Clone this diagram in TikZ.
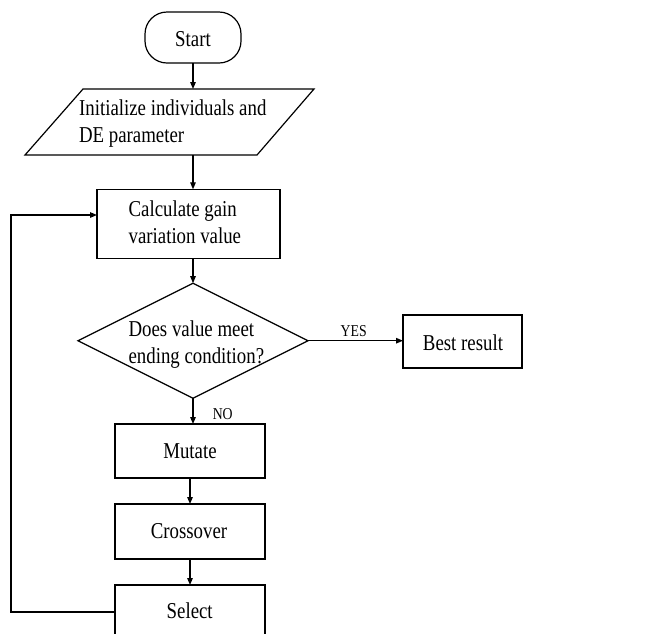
\documentclass[tikz,border=0pt]{standalone}
\usepackage{fontspec}
\setmainfont{Liberation Serif}[FakeStretch=0.83]
\usetikzlibrary{arrows.meta,shapes.geometric}
\begin{document}
\begin{tikzpicture}[x=1pt,y=-1pt,
  line width=1.2pt,
  box/.style={draw, line width=1.2pt, inner sep=0pt, outer sep=0pt},
  conn/.style={-{Triangle[length=7pt,width=5.5pt]}, line width=1.2pt},
  txt/.style={font=\fontsize{22.7}{27}\selectfont, inner sep=0pt, anchor=base},
  lbl/.style={font=\fontsize{16.6}{20}\selectfont, inner sep=0pt, anchor=base}]
\useasboundingbox (0,0) rectangle (652,633);
\clip (0,0) rectangle (652,633);
\fill[white] (0,0) rectangle (652,633);
% shapes
\node[box, minimum width=96pt, minimum height=51pt, rounded corners=22pt] (start) at (193,37.5) {};
\draw (83,89) -- (314,89) -- (257,155) -- (25,155) -- cycle;
\coordinate (initT) at (193,89);
\coordinate (initB) at (193,155);
\node[box, minimum width=183pt, minimum height=69pt] (calc) at (188.5,223.8) {};
\node[box, diamond, minimum width=230pt, minimum height=115pt] (dec) at (193,340.7) {};
\node[box, minimum width=119pt, minimum height=53pt] (best) at (462.5,341.5) {};
\node[box, minimum width=150pt, minimum height=54pt] (mutate) at (190,451) {};
\node[box, minimum width=150pt, minimum height=55pt] (cross) at (190,531.5) {};
\node[box, minimum width=150pt, minimum height=54pt] (select) at (190,612) {};
% texts
\node[txt] (tstart) at (193,46.7) {Start};
\node[txt, anchor=base west] (tinit1) at (78.5,115) {Initialize individuals and};
\node[txt, anchor=base west] (tinit2) at (78.5,142.7) {DE parameter};
\node[txt, anchor=base west] (tcalc1) at (128,216) {Calculate gain};
\node[txt, anchor=base west] (tcalc2) at (128,243.3) {variation value};
\node[txt, anchor=base west] (tdec1) at (128,336.7) {Does value meet};
\node[txt, anchor=base west] (tdec2) at (128,363) {ending condition?};
\node[txt] (tbest) at (463,350) {Best result};
\node[txt] (tmut) at (190,458) {Mutate};
\node[txt] (tcross) at (189,538) {Crossover};
\node[txt] (tsel) at (189.7,618) {Select};
\node[lbl] (yes) at (353.7,336) {YES};
\node[lbl] (no) at (222.7,419) {NO};
% connectors
\draw[conn] (start.south) -- (initT);
\draw[conn] (initB) -- (initB |- calc.north);
\draw[conn] (calc.south -| dec.north) -- (dec.north);
\draw[conn] (dec.east) -- (dec.east -| best.west);
\draw[conn] (dec.south) -- (dec.south |- mutate.north);
\draw[conn] (mutate.south) -- (cross.north);
\draw[conn] (cross.south) -- (select.north);
\coordinate (loopc) at (11,215);
\draw[conn] (select.west) -| (loopc) -- (loopc -| calc.west);
\end{tikzpicture}
\end{document}
